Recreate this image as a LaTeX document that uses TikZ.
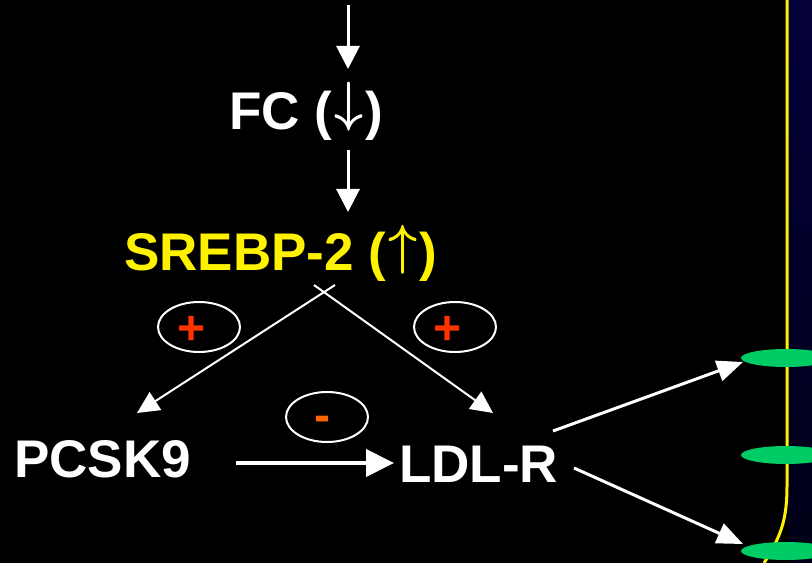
\documentclass[tikz,border=0pt]{standalone}
\usepackage{fontspec}
\usepackage{graphicx}
\setmainfont{Liberation Sans}
\usetikzlibrary{arrows.meta,shapes.geometric}
\definecolor{navy}{RGB}{4,0,58}
\definecolor{navydark}{RGB}{0,0,22}
\definecolor{membgreen}{RGB}{0,204,102}
\definecolor{plusred}{RGB}{255,51,0}
\definecolor{minusorange}{RGB}{255,102,0}
\newcommand{\bigarr}[2]{\kern2bp\raisebox{#2}{\resizebox{29bp}{49bp}{\raisebox{\depth}{\boldmath$#1$}}}\kern2bp}
\begin{document}
\begin{tikzpicture}[x=1bp,y=-1bp,
  lbl/.style={font=\fontsize{53bp}{60bp}\selectfont\bfseries, text=white, inner sep=0, anchor=base west},
  bigarrow/.style={draw=white, line width=3bp, -{Triangle[length=23bp,width=23bp]}},
  diagarrow/.style={draw=white, line width=2bp, -{Triangle[length=22bp,width=21bp]}},
  ldlarrow/.style={draw=white, line width=3bp, -{Triangle[length=26bp,width=21bp]}},
  signell/.style={draw=white, line width=2bp, ellipse, minimum width=82bp, minimum height=50bp, inner sep=0},
  signtxt/.style={font=\fontsize{48bp}{56bp}\selectfont\bfseries, inner sep=0},
  receptor/.style={ellipse, fill=membgreen, minimum width=90bp, minimum height=18bp, inner sep=0}
]
\useasboundingbox (0,0) rectangle (812,563);
\fill[black] (0,0) rectangle (812,563);
% cell interior beyond membrane
\shade[top color=navy, bottom color=navydark] (788,0) rectangle (812,563);
% membrane
\draw[yellow, line width=3bp] (787,0) -- (787,485) .. controls (787,518) and (782,535) .. (764,563);
% receptors
\node[receptor] (r1) at (786,358) {};
\node[receptor] (r2) at (786,455) {};
\node[receptor] (r3) at (786,551) {};

% labels
\node[lbl] (fc) at (229,130) {FC (\bigarr{\downarrow}{-1bp})};
\node[lbl, text=yellow] (srebp) at (124,270) {SREBP-2 (\bigarr{\uparrow}{-4bp})};
\node[lbl] (pcsk) at (14,477) {PCSK9};
\node[lbl] (ldl) at (399,482) {LDL-R};

% vertical arrows
\coordinate (top) at (348,5);
\coordinate (fcin) at (348,69);
\coordinate (fcout) at (348,150);
\coordinate (srin) at (348,212);
\draw[bigarrow] (top) -- (fcin);
\draw[bigarrow] (fcout) -- (srin);

% crossing arrows from SREBP-2
\coordinate (sl) at (335,285);
\coordinate (sr) at (314,285);
\coordinate (pin) at (137,413);
\coordinate (lin) at (493,413);
\draw[diagarrow] (sl) -- (pin);
\draw[diagarrow] (sr) -- (lin);

% PCSK9 -> LDL-R
\coordinate (pout) at (236,463);
\coordinate (lleft) at (394,463);
\draw[draw=white, line width=4bp, -{Triangle[length=28bp,width=27bp]}] (pout) -- (lleft);

% LDL-R -> receptors
\coordinate (l1) at (553,431);
\coordinate (t1) at (743,362);
\coordinate (l2) at (574,468);
\coordinate (t3) at (743,544);
\draw[ldlarrow] (l1) -- (t1);
\draw[ldlarrow] (l2) -- (t3);

% sign ellipses
\node[signell] (e1) at (199,327) {};
\node[signell] (e2) at (455,327) {};
\node[signell] (e3) at (327,417) {};
\node[signtxt, text=plusred] at (192,330) {+};
\node[signtxt, text=plusred] at (448,330) {+};
\node[signtxt, text=minusorange, anchor=base] at (322,431) {-};
\end{tikzpicture}
\end{document}
